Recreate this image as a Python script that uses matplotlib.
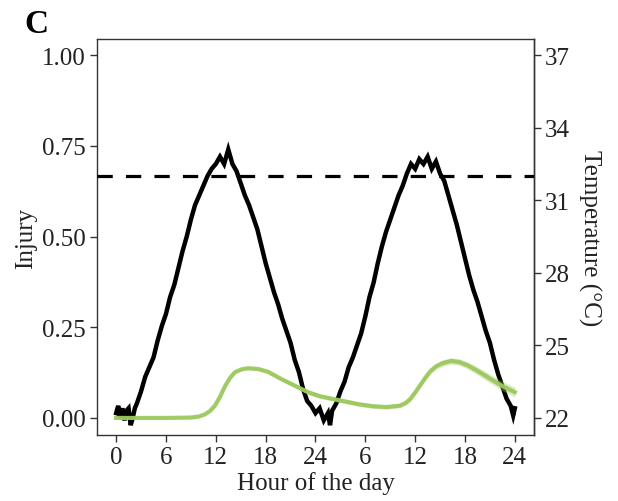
import numpy as np
import matplotlib
matplotlib.use("Agg")
import matplotlib.pyplot as plt

plt.rcParams['font.family'] = ['Liberation Serif', 'DejaVu Serif']
plt.rcParams['lines.scale_dashes'] = False

# Temperature trace (hours since start, deg C)
temp_hours = [0.0, 0.25, 0.5, 0.75, 1.0, 1.25, 1.5, 1.75, 2.0, 2.25, 2.5, 3.0, 3.5, 4.0,
              4.5, 5.0, 5.5, 6.0, 6.5, 7.0, 7.5, 8.0, 8.5, 9.0, 9.5, 10.0, 10.5, 11.0,
              11.5, 12.0, 12.5, 13.0, 13.5, 14.0, 14.5, 15.0, 15.5, 16.0, 16.5, 17.0,
              17.5, 18.0, 18.5, 19.0, 19.5, 20.0, 20.5, 21.0, 21.5, 22.0, 22.5, 23.0,
              23.5, 24.0, 24.5, 25.0, 25.5, 25.75, 26.0, 26.5, 27.0, 27.5, 28.0, 28.5,
              29.0, 29.5, 30.0, 30.5, 31.0, 31.5, 32.0, 32.5, 33.0, 33.5, 34.0, 34.5,
              35.0, 35.5, 36.0, 36.5, 37.0, 37.5, 38.0, 38.5, 39.0, 39.5, 40.0, 40.5,
              41.0, 41.5, 42.0, 42.5, 43.0, 43.5, 44.0, 44.5, 45.0, 45.5, 46.0, 46.5,
              47.0, 47.5, 47.8, 48.0]
temp_values = [22.2, 22.5, 22.0, 22.4, 21.9, 22.3, 22.4, 21.7, 22.0, 22.4, 22.6, 23.1,
               23.7, 24.1, 24.5, 25.2, 25.8, 26.3, 27.0, 27.5, 28.2, 28.9, 29.5, 30.2,
               30.8, 31.2, 31.6, 32.0, 32.3, 32.5, 32.8, 32.5, 33.1, 32.5, 32.2, 31.7,
               31.2, 30.8, 30.3, 29.8, 29.1, 28.4, 27.8, 27.2, 26.7, 26.1, 25.6, 25.1,
               24.4, 23.9, 23.2, 22.7, 22.5, 22.2, 22.4, 21.9, 22.2, 21.7, 22.3, 22.6,
               23.1, 23.5, 24.1, 24.5, 25.0, 25.5, 26.2, 27.0, 27.6, 28.4, 29.1, 29.7,
               30.2, 30.7, 31.2, 31.6, 32.1, 32.5, 32.3, 32.7, 32.5, 32.8, 32.3, 32.6,
               32.1, 31.8, 31.2, 30.6, 30.0, 29.3, 28.6, 27.9, 27.3, 26.8, 26.2, 25.6,
               25.1, 24.4, 23.8, 23.3, 22.8, 22.5, 22.1, 22.4]

# Injury curve (fitted mean and standard error)
injury_hours = [0, 3, 6, 9, 10, 10.7, 11.3, 11.9, 12.5, 13.1, 13.7, 14.3, 15.1, 15.9,
                17.1, 18.3, 19.9, 21.5, 23.1, 24.5, 27.0, 29.4, 31.0, 32.6, 34.2, 34.9,
                35.4, 36.0, 36.6, 37.2, 37.8, 38.5, 39.3, 40.3, 41.3, 42.3, 43.4, 44.4,
                45.4, 46.4, 47.2, 48.0]
injury_values = [0.0, 0.0, 0.0, 0.001, 0.004, 0.010, 0.019, 0.034, 0.058, 0.087, 0.110,
                 0.126, 0.134, 0.137, 0.135, 0.127, 0.107, 0.089, 0.071, 0.060, 0.048,
                 0.037, 0.032, 0.030, 0.034, 0.042, 0.052, 0.070, 0.090, 0.110, 0.128,
                 0.142, 0.151, 0.157, 0.154, 0.145, 0.131, 0.117, 0.103, 0.089, 0.080,
                 0.071]
injury_se = [0.0, 0.0, 0.0, 0.0, 0.001, 0.001, 0.002, 0.002, 0.003, 0.003, 0.003, 0.004,
             0.004, 0.004, 0.004, 0.005, 0.005, 0.005, 0.006, 0.006, 0.006, 0.006, 0.006,
             0.006, 0.006, 0.006, 0.007, 0.007, 0.007, 0.008, 0.008, 0.008, 0.009, 0.009,
             0.009, 0.010, 0.011, 0.012, 0.012, 0.013, 0.013, 0.014]

threshold_temp = 32.0
x_ticks = [0, 6, 12, 18, 24, 30, 36, 42, 48]
x_tick_labels = ['0', '6', '12', '18', '24', '6', '12', '18', '24']
inj_ticks = [0.0, 0.25, 0.5, 0.75, 1.0]
inj_tick_labels = ['0.00', '0.25', '0.50', '0.75', '1.00']
temp_ticks = [22, 25, 28, 31, 34, 37]

T0, TSPAN = 22.0, 15.0
def t2i(t):
    return (np.asarray(t, dtype=float) - T0) / TSPAN
def i2t(i):
    return T0 + TSPAN * np.asarray(i, dtype=float)

fig = plt.figure(figsize=(6.18, 5.02), dpi=100)
ax = fig.add_axes([0.157, 0.1315, 0.707, 0.7885])

green = '#9cc95e'
ax.plot(temp_hours, t2i(temp_values), color='black', lw=3.2, zorder=2,
        solid_joinstyle='miter')
ih = np.array(injury_hours)
iv = np.array(injury_values)
se = np.array(injury_se)
ax.fill_between(ih, iv - se, iv + se, color=green, alpha=0.35, lw=0, zorder=3)
ax.plot(ih, iv, color=green, lw=3.0, zorder=4, alpha=0.95)
ax.axhline(t2i(threshold_temp), color='black', lw=2.3, dashes=(11, 9.5), zorder=5)

ax.set_xlim(-2.3, 50.3)
ax.set_ylim(-0.047, 1.044)
ax.set_xticks(x_ticks)
ax.set_xticklabels(x_tick_labels)
ax.set_yticks(inj_ticks)
ax.set_yticklabels(inj_tick_labels)

sec = ax.secondary_yaxis('right', functions=(i2t, t2i))
sec.set_yticks(temp_ticks)

spine_col = '#333333'
for s in ax.spines.values():
    s.set_color(spine_col)
    s.set_linewidth(1.0)
sec.spines['right'].set_color(spine_col)
sec.spines['right'].set_linewidth(1.0)

for a in (ax, sec):
    a.tick_params(axis='both', labelsize=18, length=5, width=1.0, color=spine_col,
                  labelcolor='#222222', pad=3)

ax.set_xlabel('Hour of the day', fontsize=18, color='#222222', labelpad=2)
ax.set_ylabel('Injury', fontsize=18, color='#222222', labelpad=4)
sec.set_ylabel('Temperature (°C)', fontsize=18, color='#222222', rotation=270,
               labelpad=22)

fig.text(0.04, 0.935, 'C', fontsize=24, fontweight='bold', color='black')

fig.savefig('out.png', dpi=100)
